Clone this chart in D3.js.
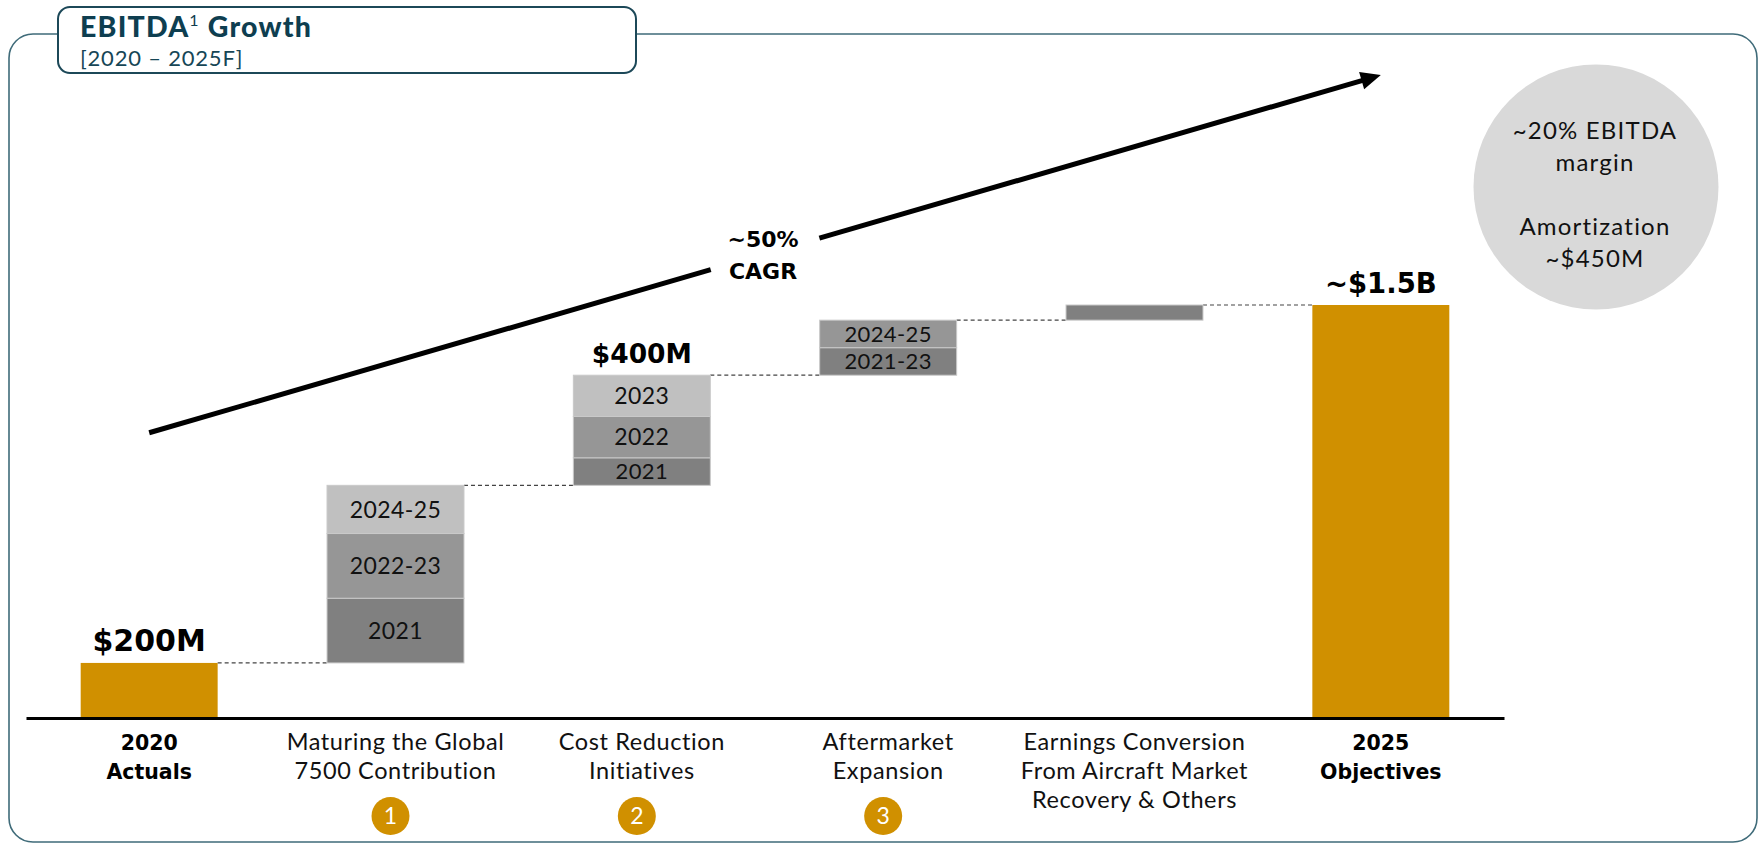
<!DOCTYPE html>
<html>
<head>
<meta charset="utf-8">
<script src="https://cdn.jsdelivr.net/npm/d3@7"></script>
<style>
  html, body { margin: 0; padding: 0; background: #fff; }
  svg { display: block; }
</style>
</head>
<body>
<svg id="chart" width="1759" height="844"></svg>
<script>
// ---------- DATA ----------
const categories = ["2020 Actuals", "Maturing the Global 7500 Contribution", "Cost Reduction Initiatives",
  "Aftermarket Expansion", "Earnings Conversion From Aircraft Market Recovery & Others", "2025 Objectives"];
const categoryLines = [["2020", "Actuals"], ["Maturing the Global", "7500 Contribution"], ["Cost Reduction", "Initiatives"],
  ["Aftermarket", "Expansion"], ["Earnings Conversion", "From Aircraft Market", "Recovery & Others"], ["2025", "Objectives"]];
const categoryBold = [true, false, false, false, false, true];
const stepNumbers = ["", "1", "2", "3", "", ""];

const startValue = 200;     // 2020 Actuals ($M)
const endValue = 1500;      // 2025 Objectives ($M)

const g7500Labels = ["2021", "2022-23", "2024-25"];
const g7500Values = [235, 235, 175];
const costLabels = ["2021", "2022", "2023"];
const costValues = [100, 150, 150];
const aftermarketLabels = ["2021-23", "2024-25"];
const aftermarketValues = [100, 100];
const otherLabels = [""];
const otherValues = [55];

const valueLabels = ["$200M", "", "$400M", "", "", "~$1.5B"];
const cagrLines = ["~50%", "CAGR"];
const cagrStartValue = 1036;  // arrow start height on value scale
const cagrEndValue = 2335;    // arrow tip height on value scale
const circleLines = ["~20% EBITDA", "margin", "", "Amortization", "~$450M"];
const titleMain = "EBITDA";
const titleSup = "1";
const titleRest = " Growth";
const subtitle = "[2020 \u2013 2025F]";

// ---------- STYLE ----------
const gold = "#d09000";
const shades = ["#808080", "#969696", "#c0c0c0"];
const teal = "#0e3e50";
const sans = "Lato, 'Noto Sans', sans-serif";

const svg = d3.select("#chart");

// Frame
svg.append("rect").attr("x", 9).attr("y", 34).attr("width", 1748).attr("height", 808)
  .attr("rx", 24).attr("ry", 24).attr("fill", "none").attr("stroke", "#3f6b79").attr("stroke-width", 1.6);

// Title box
svg.append("rect").attr("x", 58).attr("y", 7).attr("width", 578).attr("height", 66)
  .attr("rx", 12).attr("ry", 12).attr("fill", "#fff").attr("stroke", "#1c4858").attr("stroke-width", 2);
const tt = svg.append("text").attr("x", 80).attr("y", 37).attr("fill", teal)
  .attr("font-family", sans).attr("font-weight", 900).attr("font-size", 28.5).attr("letter-spacing", 1.2);
tt.append("tspan").text(titleMain);
tt.append("tspan").attr("font-size", 16).attr("font-weight", 400).attr("dy", -11).text(titleSup);
tt.append("tspan").attr("dy", 11).text(titleRest);
svg.append("text").attr("x", 80).attr("y", 66).attr("fill", "#164656")
  .attr("font-family", sans).attr("font-weight", 400).attr("font-size", 22).attr("letter-spacing", 0.8)
  .text(subtitle);

// ---------- SCALES ----------
const x = d3.scaleBand().domain(categories).range([26, 1504]).paddingInner(0.444).paddingOuter(0.222);
const y = d3.scaleLinear().domain([0, endValue]).range([718, 305]);

// Build waterfall pieces
const stacks = [
  { cat: categories[1], labels: g7500Labels, values: g7500Values },
  { cat: categories[2], labels: costLabels, values: costValues },
  { cat: categories[3], labels: aftermarketLabels, values: aftermarketValues },
  { cat: categories[4], labels: otherLabels, values: otherValues }
];
let running = startValue;
const segments = [];
const tops = [{ cat: categories[0], base: 0, top: startValue }];
stacks.forEach(s => {
  const base = running;
  s.values.forEach((v, i) => {
    segments.push({ cat: s.cat, label: s.labels[i], y0: running, y1: running + v, shade: shades[i] });
    running += v;
  });
  tops.push({ cat: s.cat, base: base, top: running });
});
tops.push({ cat: categories[5], base: 0, top: endValue });

// Connectors (dashed)
const g = svg.append("g");
for (let i = 0; i < tops.length - 1; i++) {
  const lvl = tops[i].top;
  g.append("line")
    .attr("x1", x(tops[i].cat) + x.bandwidth()).attr("x2", x(tops[i + 1].cat))
    .attr("y1", y(lvl)).attr("y2", y(lvl))
    .attr("stroke", "#444").attr("stroke-width", 1.2).attr("stroke-dasharray", "4,3");
}

// Gold bars
g.selectAll(".gold").data([tops[0], tops[tops.length - 1]]).enter().append("rect")
  .attr("x", d => x(d.cat)).attr("width", x.bandwidth())
  .attr("y", d => y(d.top)).attr("height", d => y(d.base) - y(d.top))
  .attr("fill", gold);

// Grey segments
g.selectAll(".seg").data(segments).enter().append("rect")
  .attr("x", d => x(d.cat)).attr("width", x.bandwidth())
  .attr("y", d => y(d.y1)).attr("height", d => y(d.y0) - y(d.y1))
  .attr("fill", d => d.shade).attr("stroke", "#c9c9c9").attr("stroke-width", 1);

g.selectAll(".segl").data(segments.filter(d => d.label)).enter().append("text")
  .attr("x", d => x(d.cat) + x.bandwidth() / 2)
  .attr("y", d => (y(d.y0) + y(d.y1)) / 2).attr("dy", "0.36em")
  .attr("text-anchor", "middle").attr("fill", "#111")
  .attr("font-family", sans).attr("font-size", d => (y(d.y0) - y(d.y1)) < 35 ? 22 : 23)
  .attr("letter-spacing", 0.4)
  .text(d => d.label);

// Value labels
const valueSizes = [30, 0, 26.5, 0, 0, 27.5];
categories.forEach((c, i) => {
  if (!valueLabels[i]) return;
  const t = tops[i];
  g.append("text").attr("x", x(c) + x.bandwidth() / 2).attr("y", y(t.top) - 12)
    .attr("text-anchor", "middle").attr("fill", "#000")
    .attr("font-family", "'DejaVu Sans', sans-serif").attr("font-weight", "bold")
    .attr("font-size", valueSizes[i]).text(valueLabels[i]);
});

// Axis
const axis = d3.axisBottom(x).tickSize(0).tickFormat(() => "");
const ax = svg.append("g").attr("transform", "translate(0,718)").call(axis);
ax.select(".domain").attr("stroke", "#000").attr("stroke-width", 3);

// Category labels
categories.forEach((c, i) => {
  const t = svg.append("text").attr("x", x(c) + x.bandwidth() / 2).attr("y", 750)
    .attr("text-anchor", "middle").attr("fill", "#111");
  if (categoryBold[i]) {
    t.attr("font-family", "'DejaVu Sans', sans-serif").attr("font-weight", "bold").attr("font-size", 20.5).attr("fill", "#000");
  } else {
    t.attr("font-family", sans).attr("font-size", 23.5).attr("letter-spacing", 0.6);
  }
  categoryLines[i].forEach((ln, j) => {
    t.append("tspan").attr("x", x(c) + x.bandwidth() / 2).attr("dy", j === 0 ? 0 : 29).text(ln);
  });
  if (stepNumbers[i]) {
    svg.append("circle").attr("cx", x(c) + x.bandwidth() / 2 - 5).attr("cy", 816).attr("r", 19).attr("fill", gold);
    svg.append("text").attr("x", x(c) + x.bandwidth() / 2 - 5).attr("y", 816).attr("dy", "0.36em")
      .attr("text-anchor", "middle").attr("fill", "#fff")
      .attr("font-family", sans).attr("font-size", 23).text(stepNumbers[i]);
  }
});

// CAGR arrow
const ax0 = x(categories[0]) + x.bandwidth() / 2, ay0 = y(cagrStartValue);
const ax1 = x(categories[5]) + x.bandwidth() / 2, ay1 = y(cagrEndValue);
const len = Math.hypot(ax1 - ax0, ay1 - ay0);
const ux = (ax1 - ax0) / len, uy = (ay1 - ay0) / len;
const gapStart = 710.7, gapEnd = 819.4;
const yAt = xx => ay0 + (xx - ax0) * (ay1 - ay0) / (ax1 - ax0);
const headLen = 20, headHalf = 9;
const bx = ax1 - ux * headLen, by = ay1 - uy * headLen;
svg.append("line").attr("x1", ax0).attr("y1", ay0).attr("x2", gapStart).attr("y2", yAt(gapStart))
  .attr("stroke", "#000").attr("stroke-width", 5);
svg.append("line").attr("x1", gapEnd).attr("y1", yAt(gapEnd)).attr("x2", bx + ux * 2).attr("y2", by + uy * 2)
  .attr("stroke", "#000").attr("stroke-width", 5);
svg.append("path")
  .attr("d", `M${ax1},${ay1} L${bx - uy * headHalf},${by + ux * headHalf} L${bx + uy * headHalf},${by - ux * headHalf} Z`)
  .attr("fill", "#000");
const ct = svg.append("text").attr("x", 763).attr("y", 247).attr("text-anchor", "middle")
  .attr("font-family", "'DejaVu Sans', sans-serif").attr("font-weight", "bold").attr("font-size", 22).attr("fill", "#000");
cagrLines.forEach((ln, j) => ct.append("tspan").attr("x", 763).attr("dy", j === 0 ? 0 : 32).text(ln));

// Circle note
svg.append("circle").attr("cx", 1596).attr("cy", 187).attr("r", 122.5).attr("fill", "#d9d9d9");
const nt = svg.append("text").attr("x", 1595).attr("y", 139).attr("text-anchor", "middle")
  .attr("font-family", sans).attr("font-size", 24).attr("letter-spacing", 1.2).attr("fill", "#111");
circleLines.forEach((ln, j) => nt.append("tspan").attr("x", 1595).attr("dy", j === 0 ? 0 : 32).text(ln || "\u00a0"));
</script>
</body>
</html>
